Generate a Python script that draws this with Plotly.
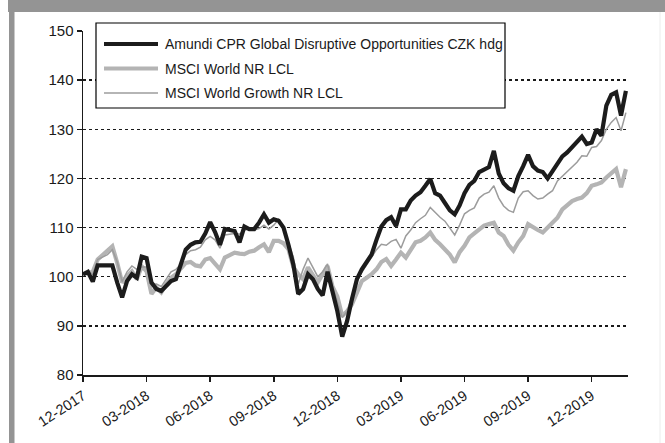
import plotly.graph_objects as go
import pandas as pd

# ---------------- data ----------------
series_names = [
    "Amundi CPR Global Disruptive Opportunities CZK hdg",
    "MSCI World NR LCL",
    "MSCI World Growth NR LCL",
]

dates = pd.date_range("2017-12-29", periods=112, freq="7D")

fund = [
    100.5, 101.0, 99.0, 102.3, 102.3, 102.3, 102.3, 98.8, 95.8, 99.1,
    100.5, 99.8, 104.1, 103.8, 98.8, 97.5, 97.1, 98.1, 99.1, 99.5,
    102.5, 105.5, 106.5, 107.0, 107.1, 108.8, 111.1, 109.1, 106.5, 109.7,
    109.5, 109.3, 107.0, 110.2, 109.7, 109.7, 111.0, 112.7, 111.0, 111.7,
    111.4, 110.0, 106.5, 102.5, 96.5, 97.5, 100.5, 99.5, 97.5, 96.2,
    101.0, 96.8, 93.0, 87.8, 91.0, 95.5, 99.5, 101.5, 103.2, 104.5,
    107.5, 110.2, 111.5, 112.1, 110.3, 113.7, 113.7, 115.5, 116.5, 117.2,
    118.5, 119.9, 117.0, 116.5, 115.0, 113.5, 112.7, 114.5, 117.0, 118.7,
    119.5, 121.3, 121.8, 122.3, 125.6, 121.0, 119.0, 118.0, 117.5, 120.5,
    122.5, 124.8, 122.5, 121.6, 121.3, 120.0, 121.5, 123.0, 124.5, 125.3,
    126.3, 127.5, 128.5, 127.0, 127.3, 130.0, 128.7, 134.8, 137.0, 137.5,
    132.8, 137.8,
]

msci_world = [
    100.5, 100.8, 101.0, 103.5, 104.5, 105.3, 106.2, 102.8, 98.8, 100.1,
    101.1, 99.5, 102.1, 101.1, 96.5, 97.8, 96.8, 98.5, 99.8, 100.5,
    101.8, 102.8, 103.0, 102.3, 102.1, 103.5, 103.8, 102.5, 101.5, 103.9,
    104.5, 104.9, 104.7, 104.6, 105.1, 105.3, 106.0, 106.6, 105.0, 107.3,
    107.3, 106.8, 105.6, 102.0, 100.5, 99.5, 101.9, 100.5, 98.8, 100.5,
    102.2, 98.0, 96.0, 92.0, 93.0, 94.4, 97.0, 99.1, 99.8, 100.5,
    101.5, 103.0, 103.6, 102.2, 103.5, 104.9, 103.9, 105.5, 107.0, 107.3,
    108.0, 109.0, 107.5, 106.6, 105.6, 104.5, 102.9, 105.0, 106.3, 108.0,
    108.8, 109.7, 110.4, 110.7, 111.0, 109.0, 108.3, 106.5, 105.3, 107.0,
    108.3, 110.7, 110.0, 109.5, 109.0, 110.0, 111.0, 112.0, 113.7, 114.5,
    115.4, 115.8, 116.1, 117.0, 118.5, 118.8, 119.2, 120.2, 121.2, 121.9,
    118.2, 121.9,
]

msci_growth = [
    100.5, 101.0, 100.5, 103.5, 104.0, 104.5, 105.5, 103.0, 99.0, 101.0,
    102.2, 101.5, 102.0, 102.0, 98.5, 98.5, 98.0, 99.5, 101.0, 101.5,
    102.5, 104.5, 105.3, 105.5, 106.0, 107.5, 108.2, 107.5, 105.8, 108.5,
    108.6, 108.8, 108.7, 109.5, 109.7, 109.5, 109.8, 110.5, 109.7, 110.5,
    111.7, 110.0, 107.0, 104.0, 98.5, 101.5, 103.8, 102.0, 100.0, 101.0,
    102.6, 98.0, 95.0, 91.7, 93.0, 96.0, 99.0, 100.9, 102.5, 104.0,
    105.5, 106.6, 106.4, 107.2, 107.6, 105.8, 108.3, 109.5, 111.0, 111.8,
    112.5, 114.1, 113.0, 112.1, 111.3, 110.0, 108.5, 110.5, 112.8, 113.5,
    114.0, 116.0, 116.8, 117.2, 118.5, 116.0, 114.4, 113.5, 113.1, 116.0,
    117.3, 117.5, 116.5, 115.8, 116.0, 116.8, 117.5, 119.5, 120.5, 121.5,
    122.5, 123.3, 124.6, 124.5, 126.3, 126.5, 127.7, 130.0, 131.4, 132.4,
    129.7, 133.4,
]

tick_labels = ["12-2017", "03-2018", "06-2018", "09-2018", "12-2018",
               "03-2019", "06-2019", "09-2019", "12-2019"]
tick_index = [0, 13, 26, 39, 52, 65, 78, 91, 104]

# ---------------- layout geometry ----------------
W, H = 665, 443
L, R, T, B = 83, 628, 31, 375  # plot area in pixels


def px_x(x):
    return (x - L) / (R - L)


def px_y(y):
    return (B - y) / (B - T)


FONT = "Liberation Sans, Arial, sans-serif"
colors = ["#1c1c1c", "#b4b4b4", "#9c9c9c"]
widths = [4.2, 4.2, 1.5]

fig = go.Figure()
for name, vals, c, w in zip(series_names, [fund, msci_world, msci_growth], colors, widths):
    fig.add_trace(go.Scatter(x=dates, y=vals, mode="lines", name=name,
                             line=dict(color=c, width=w), showlegend=False,
                             hoverinfo="skip"))
# draw order: thick gray below, thin gray, black on top
fig.data = (fig.data[1], fig.data[2], fig.data[0])

shapes = []
# frame: top gray bar, left gray bar, right light line
shapes.append(dict(type="rect", xref="paper", yref="paper",
                   x0=px_x(8), x1=px_x(W + 2), y0=px_y(12), y1=px_y(-2),
                   fillcolor="#949494", line=dict(width=0), layer="above"))
shapes.append(dict(type="rect", xref="paper", yref="paper",
                   x0=px_x(9), x1=px_x(14.5), y0=px_y(H + 2), y1=px_y(12),
                   fillcolor="#949494", line=dict(width=0), layer="above"))
shapes.append(dict(type="line", xref="paper", yref="paper",
                   x0=px_x(660), x1=px_x(660), y0=px_y(H), y1=px_y(12),
                   line=dict(color="#ececec", width=1), layer="above"))

# legend box
shapes.append(dict(type="rect", xref="paper", yref="paper",
                   x0=px_x(96), x1=px_x(505), y0=px_y(108), y1=px_y(23),
                   fillcolor="white", line=dict(color="black", width=1.2), layer="above"))
row_y = [44, 68.5, 93]
annotations = []
for name, c, w, ry in zip(series_names, colors, widths, row_y):
    shapes.append(dict(type="line", xref="paper", yref="paper",
                       x0=px_x(104), x1=px_x(158), y0=px_y(ry), y1=px_y(ry),
                       line=dict(color=c, width=w), layer="above"))
    annotations.append(dict(xref="paper", yref="paper", x=px_x(163), y=px_y(ry),
                            xanchor="left", yanchor="middle", text=name, showarrow=False,
                            font=dict(family=FONT, size=14, color="#1a1a1a")))

fig.update_layout(
    width=W, height=H,
    margin=dict(l=L, r=W - R, t=T, b=H - B, pad=0),
    paper_bgcolor="white", plot_bgcolor="white",
    font=dict(family=FONT, size=14, color="#1a1a1a"),
    shapes=shapes, annotations=annotations,
    showlegend=False, hovermode=False,
)

fig.update_xaxes(
    range=[dates[0], dates[-1] + pd.Timedelta(days=3)],
    tickmode="array",
    tickvals=[dates[i] for i in tick_index],
    ticktext=tick_labels,
    tickangle=-33,
    ticks="outside", ticklen=5, tickwidth=1.5, tickcolor="#1a1a1a",
    showline=True, linecolor="#1a1a1a", linewidth=2,
    showgrid=False, zeroline=False,
    tickfont=dict(family=FONT, size=14.5, color="#1a1a1a"),
)
fig.update_yaxes(
    range=[80, 150], dtick=10, tick0=80,
    ticks="outside", ticklen=5, tickwidth=1.5, tickcolor="#1a1a1a",
    showline=True, linecolor="#1a1a1a", linewidth=1.5,
    showgrid=True, gridcolor="#1a1a1a", gridwidth=1.5, griddash="dot",
    zeroline=False,
    tickfont=dict(family=FONT, size=15, color="#1a1a1a"),
)

fig.write_html(
    "out.html",
    config={"displayModeBar": False, "staticPlot": True},
    post_script="document.body.style.margin='0';document.body.style.padding='0';",
)
